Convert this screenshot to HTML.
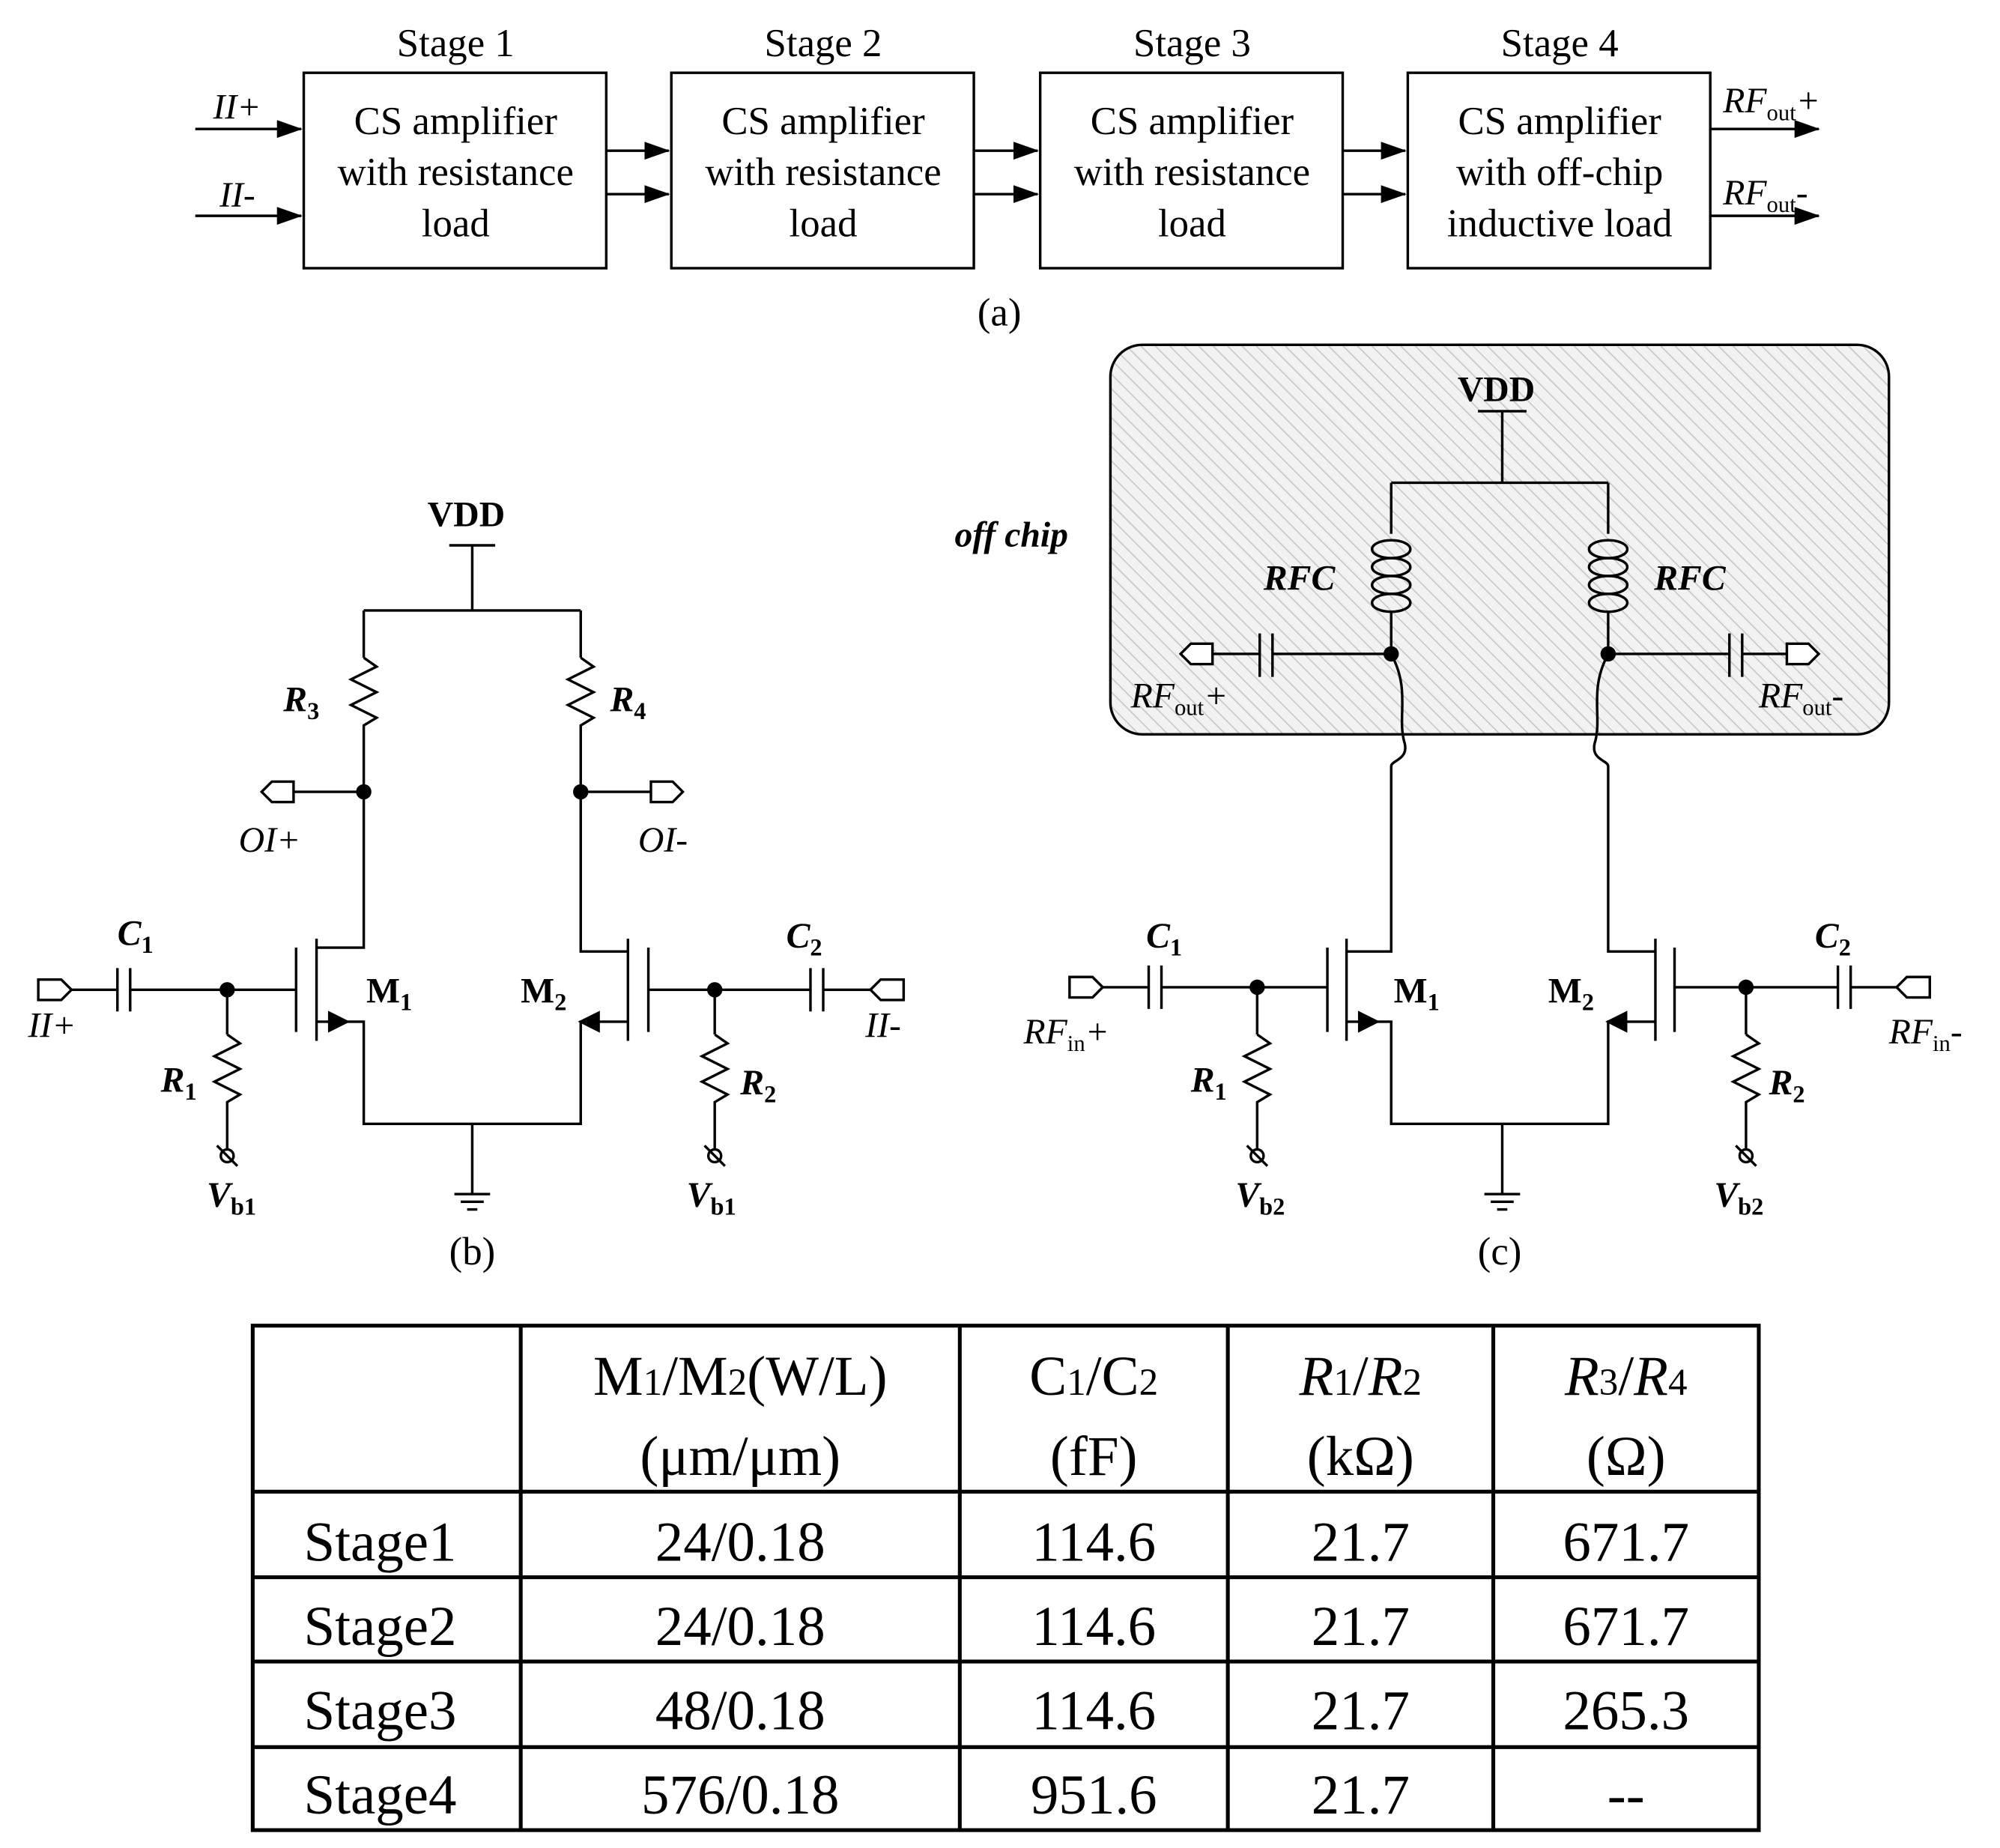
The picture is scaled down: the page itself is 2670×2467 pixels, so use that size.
<!DOCTYPE html>
<html><head><meta charset="utf-8"><style>
html,body{margin:0;padding:0;background:#fff}
svg{display:block}
text{font-family:"Liberation Serif",serif;fill:#000}
</style></head><body>
<svg width="2670" height="2467" viewBox="0 0 1567 1447" preserveAspectRatio="none" xmlns="http://www.w3.org/2000/svg">
<defs>
<pattern id="h" width="8" height="8" patternUnits="userSpaceOnUse" patternTransform="rotate(-45)">
<rect width="8" height="8" fill="#f2f2f2"/><line x1="0" y1="0" x2="0" y2="8" stroke="#c8c8c8" stroke-width="2"/>
</pattern>
<marker id="ar2" markerWidth="20" markerHeight="14" refX="19" refY="7" orient="auto" markerUnits="userSpaceOnUse"><path d="M0,0 L20,7 L0,14 Z" fill="#000"/></marker>
</defs>
<g stroke="#000" stroke-width="2" fill="none">
<rect x="238" y="57" width="237" height="153"/>
<rect x="526" y="57" width="237" height="153"/>
<rect x="815" y="57" width="237" height="153"/>
<rect x="1103" y="57" width="237" height="153"/>
<line x1="153" y1="101" x2="236" y2="101" marker-end="url(#ar2)"/>
<line x1="153" y1="169" x2="236" y2="169" marker-end="url(#ar2)"/>
<line x1="475" y1="118" x2="524" y2="118" marker-end="url(#ar2)"/>
<line x1="475" y1="152" x2="524" y2="152" marker-end="url(#ar2)"/>
<line x1="763" y1="118" x2="813" y2="118" marker-end="url(#ar2)"/>
<line x1="763" y1="152" x2="813" y2="152" marker-end="url(#ar2)"/>
<line x1="1052" y1="118" x2="1101" y2="118" marker-end="url(#ar2)"/>
<line x1="1052" y1="152" x2="1101" y2="152" marker-end="url(#ar2)"/>
<line x1="1340" y1="101" x2="1425" y2="101" marker-end="url(#ar2)"/>
<line x1="1340" y1="169" x2="1425" y2="169" marker-end="url(#ar2)"/>

<rect x="870" y="270" width="610" height="305" rx="25" fill="url(#h)"/>

<line x1="352" y1="427" x2="388" y2="427"/>
<path d="M370 427 V478 M285 478 H455 M285 478 V515 M455 478 V515"/>
<polyline points="285,515 295,522 275,532 295,542 275,552 295,562 285,568 285,620"/>
<polyline points="455,515 465,522 445,532 465,542 445,552 465,562 455,568 455,620"/>
<path d="M285 620 H230 M455 620 H510"/>
<polygon points="205,620 213,612 230,612 230,628 213,628" fill="#fff"/>
<polygon points="535,620 527,612 510,612 510,628 527,628" fill="#fff"/>
<path d="M285 620 V742 H248 M248 735 V815 M232 742 V808"/>
<path d="M248 800 H285 V880 H455 V800 H492 M370 880 V935"/>
<path d="M455 620 V745 H492 M492 735 V815 M508 742 V808"/>
<path d="M258 793 L272 800 L258 807 Z" fill="#000"/>
<path d="M469 793 L455 800 L469 807 Z" fill="#000"/>
<path d="M356 935 H384 M361 941 H379 M366 947 H374"/>
<path d="M56 775 H92 M92 758 V792 M102 758 V792 M102 775 H232"/>
<polygon points="30,767 48,767 56,775 48,783 30,783" fill="#fff"/>
<path d="M178 775 V810"/>
<polyline points="178,810 188,817 168,827 188,837 168,847 188,857 178,863 178,900"/>
<circle cx="178" cy="905" r="5"/><line x1="170" y1="897" x2="186" y2="913"/>
<path d="M508 775 H635 M635 758 V792 M645 758 V792 M645 775 H685"/>
<polygon points="708,767 690,767 682,775 690,783 708,783" fill="#fff"/>
<path d="M560 775 V810"/>
<polyline points="560,810 570,817 550,827 570,837 550,847 570,857 560,863 560,900"/>
<circle cx="560" cy="905" r="5"/><line x1="552" y1="897" x2="568" y2="913"/>

<line x1="1158" y1="322" x2="1196" y2="322"/>
<path d="M1177 322 V378 M1090 378 H1260 M1090 378 V418 M1260 378 V418"/>
<ellipse cx="1090" cy="430" rx="15" ry="7"/><ellipse cx="1090" cy="444" rx="15" ry="7"/><ellipse cx="1090" cy="458" rx="15" ry="7"/><ellipse cx="1090" cy="472" rx="15" ry="7"/>
<ellipse cx="1260" cy="430" rx="15" ry="7"/><ellipse cx="1260" cy="444" rx="15" ry="7"/><ellipse cx="1260" cy="458" rx="15" ry="7"/><ellipse cx="1260" cy="472" rx="15" ry="7"/>
<path d="M1090 479 V512 M1260 479 V512"/>
<path d="M1090 512 H997 M997 496 V530 M987 496 V530 M987 512 H950"/>
<polygon points="925,512 933,504 950,504 950,520 933,520" fill="#fff"/>
<path d="M1260 512 H1355 M1355 496 V530 M1365 496 V530 M1365 512 H1400"/>
<polygon points="1425,512 1417,504 1400,504 1400,520 1417,520" fill="#fff"/>
<path d="M1090 512 C1105 540 1095 560 1100 580 C1105 595 1090 595 1090 600 V745 H1055"/>
<path d="M1260 512 C1245 540 1255 560 1250 580 C1245 595 1260 595 1260 600 V745 H1297"/>
<path d="M1055 735 V815 M1040 742 V808 M1297 735 V815 M1312 742 V808"/>
<path d="M1055 800 H1090 V880 H1260 V800 H1297 M1177 880 V935"/>
<path d="M1065 793 L1079 800 L1065 807 Z" fill="#000"/>
<path d="M1274 793 L1260 800 L1274 807 Z" fill="#000"/>
<path d="M1163 935 H1191 M1168 941 H1186 M1173 947 H1181"/>
<path d="M862 773 H900 M900 756 V790 M910 756 V790 M910 773 H1040"/>
<polygon points="838,765 856,765 864,773 856,781 838,781" fill="#fff"/>
<path d="M985 773 V810"/>
<polyline points="985,810 995,817 975,827 995,837 975,847 995,857 985,863 985,900"/>
<circle cx="985" cy="905" r="5"/><line x1="977" y1="897" x2="993" y2="913"/>
<path d="M1312 773 H1440 M1440 756 V790 M1450 756 V790 M1450 773 H1490"/>
<polygon points="1512,765 1494,765 1486,773 1494,781 1512,781" fill="#fff"/>
<path d="M1368 773 V810"/>
<polyline points="1368,810 1378,817 1358,827 1378,837 1358,847 1378,857 1368,863 1368,900"/>
<circle cx="1368" cy="905" r="5"/><line x1="1360" y1="897" x2="1376" y2="913"/>

<rect x="198" y="1038" width="1180" height="395" stroke-width="3"/>
<path d="M408 1038 V1433 M752 1038 V1433 M962 1038 V1433 M1170 1038 V1433 M198 1168 H1378 M198 1235 H1378 M198 1301 H1378 M198 1368 H1378" stroke-width="3"/>
</g>
<g fill="#000" stroke="none">
<circle cx="285" cy="620" r="6"/><circle cx="455" cy="620" r="6"/><circle cx="178" cy="775" r="6"/><circle cx="560" cy="775" r="6"/>
<circle cx="1090" cy="512" r="6"/><circle cx="1260" cy="512" r="6"/><circle cx="985" cy="773" r="6"/><circle cx="1368" cy="773" r="6"/>
</g>
<g font-size="31" text-anchor="middle">
<text x="357" y="44">Stage 1</text><text x="645" y="44">Stage 2</text><text x="934" y="44">Stage 3</text><text x="1222" y="44">Stage 4</text>
<text x="357" y="105">CS amplifier</text><text x="357" y="145">with resistance</text><text x="357" y="185">load</text>
<text x="645" y="105">CS amplifier</text><text x="645" y="145">with resistance</text><text x="645" y="185">load</text>
<text x="934" y="105">CS amplifier</text><text x="934" y="145">with resistance</text><text x="934" y="185">load</text>
<text x="1222" y="105">CS amplifier</text><text x="1222" y="145">with off-chip</text><text x="1222" y="185">inductive load</text>
<text x="783" y="255">(a)</text><text x="370" y="990">(b)</text><text x="1175" y="990">(c)</text>
</g>
<g font-size="28" font-style="italic">
<text x="167" y="93">II+</text><text x="172" y="162">II-</text>
<text x="1350" y="88">RF<tspan font-size="18" font-style="normal" dy="6">out</tspan><tspan dy="-6">+</tspan></text>
<text x="1350" y="160">RF<tspan font-size="18" font-style="normal" dy="6">out</tspan><tspan dy="-6">-</tspan></text>
</g>
<g font-size="28" font-weight="bold">
<text x="335" y="412">VDD</text><text x="1142" y="314">VDD</text>
<text x="287" y="785">M<tspan font-size="19" dy="6">1</tspan></text>
<text x="408" y="785">M<tspan font-size="19" dy="6">2</tspan></text>
<text x="1092" y="785">M<tspan font-size="19" dy="6">1</tspan></text>
<text x="1213" y="785">M<tspan font-size="19" dy="6">2</tspan></text>
</g>
<g font-size="28" font-weight="bold" font-style="italic">
<text x="222" y="557">R<tspan font-size="19" font-style="normal" dy="6">3</tspan></text>
<text x="478" y="557">R<tspan font-size="19" font-style="normal" dy="6">4</tspan></text>
<text x="92" y="740">C<tspan font-size="19" font-style="normal" dy="6">1</tspan></text>
<text x="616" y="742">C<tspan font-size="19" font-style="normal" dy="6">2</tspan></text>
<text x="126" y="855">R<tspan font-size="19" font-style="normal" dy="6">1</tspan></text>
<text x="580" y="857">R<tspan font-size="19" font-style="normal" dy="6">2</tspan></text>
<text x="162" y="945">V<tspan font-size="19" font-style="normal" dy="6">b1</tspan></text>
<text x="538" y="945">V<tspan font-size="19" font-style="normal" dy="6">b1</tspan></text>
<text x="898" y="742">C<tspan font-size="19" font-style="normal" dy="6">1</tspan></text>
<text x="1422" y="742">C<tspan font-size="19" font-style="normal" dy="6">2</tspan></text>
<text x="933" y="855">R<tspan font-size="19" font-style="normal" dy="6">1</tspan></text>
<text x="1386" y="857">R<tspan font-size="19" font-style="normal" dy="6">2</tspan></text>
<text x="968" y="945">V<tspan font-size="19" font-style="normal" dy="6">b2</tspan></text>
<text x="1343" y="945">V<tspan font-size="19" font-style="normal" dy="6">b2</tspan></text>
<text x="990" y="462">RFC</text><text x="1296" y="462">RFC</text>
<text x="748" y="428">off chip</text>
</g>
<g font-size="28" font-style="italic">
<text x="187" y="667" fill="#444">OI+</text><text x="500" y="667" fill="#444">OI-</text>
<text x="22" y="812" fill="#444">II+</text><text x="678" y="812" fill="#444">II-</text>
<text x="886" y="554" fill="#444">RF<tspan font-size="18" font-style="normal" dy="6">out</tspan><tspan dy="-6">+</tspan></text>
<text x="1378" y="554" fill="#444">RF<tspan font-size="18" font-style="normal" dy="6">out</tspan><tspan dy="-6">-</tspan></text>
<text x="802" y="817" fill="#444">RF<tspan font-size="18" font-style="normal" dy="6">in</tspan><tspan dy="-6">+</tspan></text>
<text x="1480" y="817" fill="#444">RF<tspan font-size="18" font-style="normal" dy="6">in</tspan><tspan dy="-6">-</tspan></text>
</g>
<g font-size="44" text-anchor="middle">
<text x="580" y="1092">M<tspan font-size="30">1</tspan>/M<tspan font-size="30">2</tspan>(W/L)</text>
<text x="580" y="1155">(μm/μm)</text>
<text x="857" y="1092">C<tspan font-size="30">1</tspan>/C<tspan font-size="30">2</tspan></text>
<text x="857" y="1155">(fF)</text>
<text x="1066" y="1092"><tspan font-style="italic">R</tspan><tspan font-size="30">1</tspan>/<tspan font-style="italic">R</tspan><tspan font-size="30">2</tspan></text>
<text x="1066" y="1155">(kΩ)</text>
<text x="1274" y="1092"><tspan font-style="italic">R</tspan><tspan font-size="30">3</tspan>/<tspan font-style="italic">R</tspan><tspan font-size="30">4</tspan></text>
<text x="1274" y="1155">(Ω)</text>
<text x="580" y="1222">24/0.18</text><text x="857" y="1222">114.6</text><text x="1066" y="1222">21.7</text><text x="1274" y="1222">671.7</text>
<text x="580" y="1288">24/0.18</text><text x="857" y="1288">114.6</text><text x="1066" y="1288">21.7</text><text x="1274" y="1288">671.7</text>
<text x="580" y="1354">48/0.18</text><text x="857" y="1354">114.6</text><text x="1066" y="1354">21.7</text><text x="1274" y="1354">265.3</text>
<text x="580" y="1420">576/0.18</text><text x="857" y="1420">951.6</text><text x="1066" y="1420">21.7</text><text x="1274" y="1420">--</text>
</g>
<g font-size="44">
<text x="238" y="1222">Stage1</text><text x="238" y="1288">Stage2</text><text x="238" y="1354">Stage3</text><text x="238" y="1420">Stage4</text>
</g>
</svg>
</body></html>
